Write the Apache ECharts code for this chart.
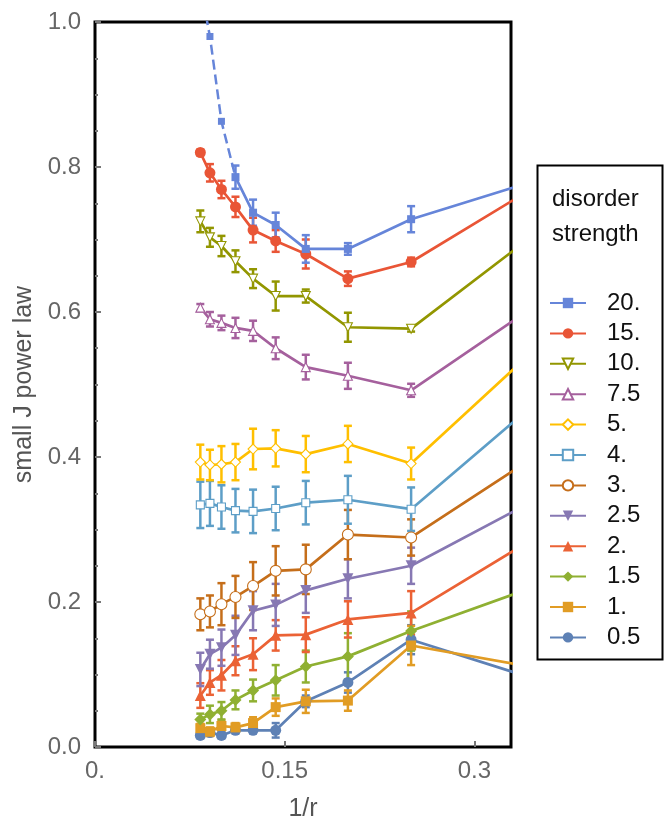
<!DOCTYPE html>
<html>
<head>
<meta charset="utf-8">
<script src="https://cdn.jsdelivr.net/npm/echarts@6/dist/echarts.min.js"></script>
<style>html,body{margin:0;padding:0;background:#fff;}#chart{width:667px;height:827px;}</style>
</head>
<body>
<div id="chart"></div>
<script>
// x positions: 1/r for r = 12 ... 3
const xVals = [0.0833, 0.0909, 0.1, 0.1111, 0.125, 0.1429, 0.1667, 0.2, 0.25, 0.3333];
const xTickLabels = {0: '0.', 0.15: '0.15', 0.3: '0.3'};
const yTickLabels = ['0.0', '0.2', '0.4', '0.6', '0.8', '1.0'];

const names = ['20.', '15.', '10.', '7.5', '5.', '4.', '3.', '2.5', '2.', '1.5', '1.', '0.5'];

// disorder 20: first points (no error bars, dashed)
const v20dash = [1.05, 0.98, 0.863, 0.786];
const v20  = [null, null, null, 0.786, 0.737, 0.720, 0.687, 0.687, 0.728, 0.773];
const e20  = [0, 0, 0, 0.016, 0.018, 0.017, 0.019, 0.008, 0.018, 0];
const v15  = [0.820, 0.792, 0.769, 0.745, 0.713, 0.698, 0.680, 0.646, 0.669, 0.757];
const e15  = [0.004, 0.012, 0.012, 0.014, 0.017, 0.015, 0.020, 0.010, 0.006, 0];
const v10  = [0.725, 0.703, 0.691, 0.670, 0.646, 0.622, 0.622, 0.579, 0.577, 0.688];
const e10  = [0.015, 0.013, 0.014, 0.015, 0.013, 0.020, 0.009, 0.020, 0.004, 0];
const v75  = [0.606, 0.590, 0.585, 0.578, 0.574, 0.550, 0.524, 0.512, 0.492, 0.591];
const e75  = [0.005, 0.010, 0.010, 0.014, 0.014, 0.015, 0.017, 0.018, 0.009, 0];
const v5   = [0.393, 0.389, 0.390, 0.393, 0.411, 0.412, 0.404, 0.418, 0.391, 0.525];
const e5   = [0.024, 0.021, 0.025, 0.025, 0.028, 0.025, 0.025, 0.025, 0.022, 0];
const v4   = [0.334, 0.336, 0.331, 0.326, 0.325, 0.329, 0.337, 0.341, 0.328, 0.452];
const e4   = [0.032, 0.031, 0.030, 0.030, 0.030, 0.030, 0.030, 0.033, 0.030, 0];
const v3   = [0.183, 0.187, 0.197, 0.207, 0.222, 0.243, 0.245, 0.293, 0.289, 0.384];
const e3   = [0.022, 0.022, 0.029, 0.029, 0.033, 0.034, 0.034, 0.034, 0.025, 0];
const v25  = [0.107, 0.128, 0.137, 0.154, 0.188, 0.196, 0.216, 0.232, 0.250, 0.327];
const e25  = [0.023, 0.020, 0.025, 0.027, 0.027, 0.029, 0.031, 0.027, 0.025, 0];
const v2   = [0.071, 0.089, 0.099, 0.119, 0.128, 0.154, 0.155, 0.176, 0.185, 0.273];
const e2   = [0.017, 0.017, 0.021, 0.020, 0.022, 0.021, 0.024, 0.025, 0.030, 0];
const v15b = [0.038, 0.045, 0.050, 0.065, 0.078, 0.092, 0.111, 0.125, 0.160, 0.212];
const e15b = [0.008, 0.012, 0.012, 0.013, 0.015, 0.021, 0.022, 0.032, 0.027, 0];
const v1   = [0.026, 0.021, 0.029, 0.027, 0.033, 0.055, 0.063, 0.064, 0.140, 0.114];
const e1   = [0.006, 0.006, 0.008, 0.006, 0.008, 0.012, 0.016, 0.014, 0.027, 0];
const v05  = [0.016, 0.020, 0.016, 0.023, 0.023, 0.023, 0.063, 0.089, 0.148, 0.102];
const e05  = [0.004, 0.004, 0.004, 0.004, 0.004, 0.010, 0.008, 0.014, 0.020, 0];

const seriesDefs = [
  {name: '20.', v: v20, e: e20, color: '#6685D9', symbol: 'rect', open: false, size: 8},
  {name: '15.', v: v15, e: e15, color: '#E95536', symbol: 'circle', open: false, size: 11},
  {name: '10.', v: v10, e: e10, color: '#929600', symbol: 'triangle', rotate: 180, open: true, size: 9},
  {name: '7.5', v: v75, e: e75, color: '#A5609D', symbol: 'triangle', open: true, size: 9},
  {name: '5.', v: v5, e: e5, color: '#FFBF00', symbol: 'diamond', open: true, size: 10},
  {name: '4.', v: v4, e: e4, color: '#5D9EC7', symbol: 'rect', open: true, size: 8},
  {name: '3.', v: v3, e: e3, color: '#C56E1A', symbol: 'circle', open: true, size: 11},
  {name: '2.5', v: v25, e: e25, color: '#8778B3', symbol: 'triangle', rotate: 180, open: false, size: 11},
  {name: '2.', v: v2, e: e2, color: '#EB6235', symbol: 'triangle', open: false, size: 11},
  {name: '1.5', v: v15b, e: e15b, color: '#8FB032', symbol: 'diamond', open: false, size: 12},
  {name: '1.', v: v1, e: e1, color: '#E19C24', symbol: 'rect', open: false, size: 10},
  {name: '0.5', v: v05, e: e05, color: '#5E81B5', symbol: 'circle', open: false, size: 11}
];

const FONT = 'Liberation Sans, Arial, sans-serif';

function errRender(color) {
  return function (params, api) {
    const x = api.value(0), lo = api.value(1), hi = api.value(2);
    const p1 = api.coord([x, lo]);
    const p2 = api.coord([x, hi]);
    const hw = 4;
    const style = {stroke: color, lineWidth: 2.5, fill: null};
    return {
      type: 'group',
      children: [
        {type: 'line', shape: {x1: p1[0], y1: p1[1], x2: p2[0], y2: p2[1]}, style: style},
        {type: 'line', shape: {x1: p1[0] - hw, y1: p1[1], x2: p1[0] + hw, y2: p1[1]}, style: style},
        {type: 'line', shape: {x1: p2[0] - hw, y1: p2[1], x2: p2[0] + hw, y2: p2[1]}, style: style}
      ]
    };
  };
}

const series = [];
// dashed leading part of 20.
series.push({
  type: 'line', name: '20.dash', data: v20dash.map((y, i) => [xVals[i], y]),
  lineStyle: {color: '#6685D9', width: 2.5, type: [10, 5]},
  symbol: 'rect', symbolSize: 7, itemStyle: {color: '#6685D9'},
  clip: true, z: 3, silent: true, animation: false
});
seriesDefs.slice().reverse().forEach(d => {
  const errData = [];
  d.v.forEach((y, i) => {
    if (y !== null && d.e[i] > 0 && xVals[i] < 0.33) errData.push([xVals[i], y - d.e[i], y + d.e[i]]);
  });
  series.push({
    type: 'custom', name: d.name + 'err', data: errData, renderItem: errRender(d.color),
    encode: {x: 0, y: [1, 2]}, z: 2, silent: true, animation: false, clip: true
  });
  const pts = [];
  d.v.forEach((y, i) => { if (y !== null) pts.push([xVals[i], y]); });
  series.push({
    type: 'line', name: d.name, data: pts,
    lineStyle: {color: d.color, width: 2.7},
    symbol: d.symbol, symbolRotate: d.rotate || 0, symbolSize: d.size,
    itemStyle: d.open ? {color: '#ffffff', borderColor: d.color, borderWidth: 1.1}
                      : {color: d.color, borderColor: d.color, borderWidth: 0},
    clip: true, z: 3, silent: true, animation: false
  });
});

const chart = echarts.init(document.getElementById('chart'), null, {renderer: 'canvas'});
chart.setOption({
  animation: false,
  backgroundColor: '#ffffff',
  grid: {left: 95, right: 156, top: 22, bottom: 77, show: true, borderColor: '#000', borderWidth: 3, backgroundColor: 'transparent'},
  xAxis: {
    type: 'value', min: 0, max: 0.329, interval: 0.15,
    name: '1/r', nameLocation: 'middle', nameGap: 50,
    nameTextStyle: {color: '#555', fontSize: 25, fontFamily: FONT},
    axisLine: {show: false},
    axisTick: {show: true, inside: true, length: 6, lineStyle: {color: '#777', width: 2}},
    axisLabel: {color: '#666', fontSize: 24, fontFamily: FONT, margin: 12,
      formatter: v => xTickLabels[Math.round(v * 100) / 100] !== undefined ? xTickLabels[Math.round(v * 100) / 100] : String(v)},
    splitLine: {show: false}
  },
  yAxis: {
    type: 'value', min: 0, max: 1, interval: 0.2,
    name: 'small J power law', nameLocation: 'middle', nameGap: 57,
    nameTextStyle: {color: '#555', fontSize: 25, fontFamily: FONT},
    axisLine: {show: false},
    axisTick: {show: true, inside: true, length: 6, lineStyle: {color: '#777', width: 2}},
    minorTick: {show: true, splitNumber: 4, length: 3, lineStyle: {color: '#777', width: 2}},
    axisLabel: {color: '#666', fontSize: 24, fontFamily: FONT, margin: 14,
      formatter: v => yTickLabels[Math.round(v * 5)]},
    splitLine: {show: false}
  },
  legend: {
    data: names, orient: 'vertical', left: 549, top: 291,
    itemWidth: 36, itemHeight: 13, itemGap: 6.4,
    textStyle: {color: '#111', fontSize: 24, fontFamily: FONT, lineHeight: 24, padding: [0, 0, 0, 16]},
    selectedMode: false, padding: 0
  },
  graphic: [
    {type: 'rect', left: 535, top: 163, shape: {width: 125, height: 494}, style: {fill: 'none', stroke: '#000', lineWidth: 2}, z: 10},
    {type: 'text', left: 552, top: 187, style: {text: 'disorder', fill: '#111', font: '24px ' + FONT}, z: 10},
    {type: 'text', left: 552, top: 222, style: {text: 'strength', fill: '#111', font: '24px ' + FONT}, z: 10}
  ],
  series: series
});
</script>
</body>
</html>
